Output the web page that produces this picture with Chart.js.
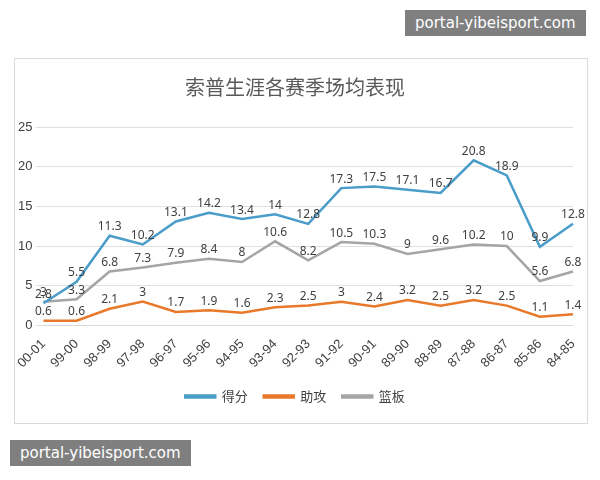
<!DOCTYPE html>
<html><head><meta charset="utf-8">
<script src="https://cdn.jsdelivr.net/npm/chart.js@4"></script>
<style>
body{margin:0;background:#fff;width:600px;height:480px;position:relative;overflow:hidden;font-family:"Noto Sans CJK SC","Noto Sans",sans-serif}
#box{position:absolute;left:14px;top:58px;width:572px;height:364px;border:1px solid #d9d9d9;background:#fff}
.wm{position:absolute;background:#7f7f7f;color:#fff;font-size:15px;padding:4px 10px;font-family:"DejaVu Sans",sans-serif}
</style></head><body>
<div id="box"><canvas id="c" width="572" height="364"></canvas></div>
<div class="wm" style="left:405px;top:10px">portal-yibeisport.com</div>
<div class="wm" style="left:10px;top:440px">portal-yibeisport.com</div>
<script>
const categories=["00-01","99-00","98-99","97-98","96-97","95-96","94-95","93-94","92-93","91-92","90-91","89-90","88-89","87-88","86-87","85-86","84-85"];
const scores=[2.8,5.5,11.3,10.2,13.1,14.2,13.4,14,12.8,17.3,17.5,17.1,16.7,20.8,18.9,9.9,12.8];
const assists=[0.6,0.6,2.1,3,1.7,1.9,1.6,2.3,2.5,3,2.4,3.2,2.5,3.2,2.5,1.1,1.4];
const rebounds=[3,3.3,6.8,7.3,7.9,8.4,8,10.6,8.2,10.5,10.3,9,9.6,10.2,10,5.6,6.8];
const labelPlugin={id:'lbl',afterDatasetsDraw(ch){const ctx=ch.ctx;ctx.save();ctx.font='12px "Noto Sans","DejaVu Sans",sans-serif';ctx.fillStyle='#404040';ctx.textAlign='center';ctx.textBaseline='bottom';
ch.data.datasets.forEach((ds,i)=>{ch.getDatasetMeta(i).data.forEach((p,j)=>{ctx.fillText(String(ds.data[j]),p.x,p.y-3);});});ctx.restore();}};
new Chart(document.getElementById('c'),{type:'line',
data:{labels:categories,datasets:[
{label:'得分',data:scores,borderColor:'#4a9cc9',backgroundColor:'#4a9cc9',borderWidth:2.5,pointRadius:0,tension:0},
{label:'助攻',data:assists,borderColor:'#e8792b',backgroundColor:'#e8792b',borderWidth:2.5,pointRadius:0,tension:0},
{label:'篮板',data:rebounds,borderColor:'#a5a5a5',backgroundColor:'#a5a5a5',borderWidth:2.5,pointRadius:0,tension:0}]},
options:{responsive:false,animation:false,layout:{padding:{left:0,right:12,top:8,bottom:10}},
plugins:{title:{display:true,text:'索普生涯各赛季场均表现',color:'#595959',font:{size:20,weight:'normal',family:'"Noto Sans CJK SC"'},padding:{top:8,bottom:28}},
legend:{position:'bottom',labels:{boxWidth:30,boxHeight:2,color:'#404040',font:{size:13,family:'"Noto Sans CJK SC"'},padding:16}},tooltip:{enabled:false}},
scales:{x:{grid:{display:false},border:{color:'#d9d9d9'},ticks:{color:'#404040',maxRotation:45,minRotation:45,font:{size:13}}},
y:{min:0,max:25,ticks:{stepSize:5,color:'#404040',font:{size:13}},grid:{color:'#e0e0e0'},border:{display:false}}}},
plugins:[labelPlugin]});
</script></body></html>
